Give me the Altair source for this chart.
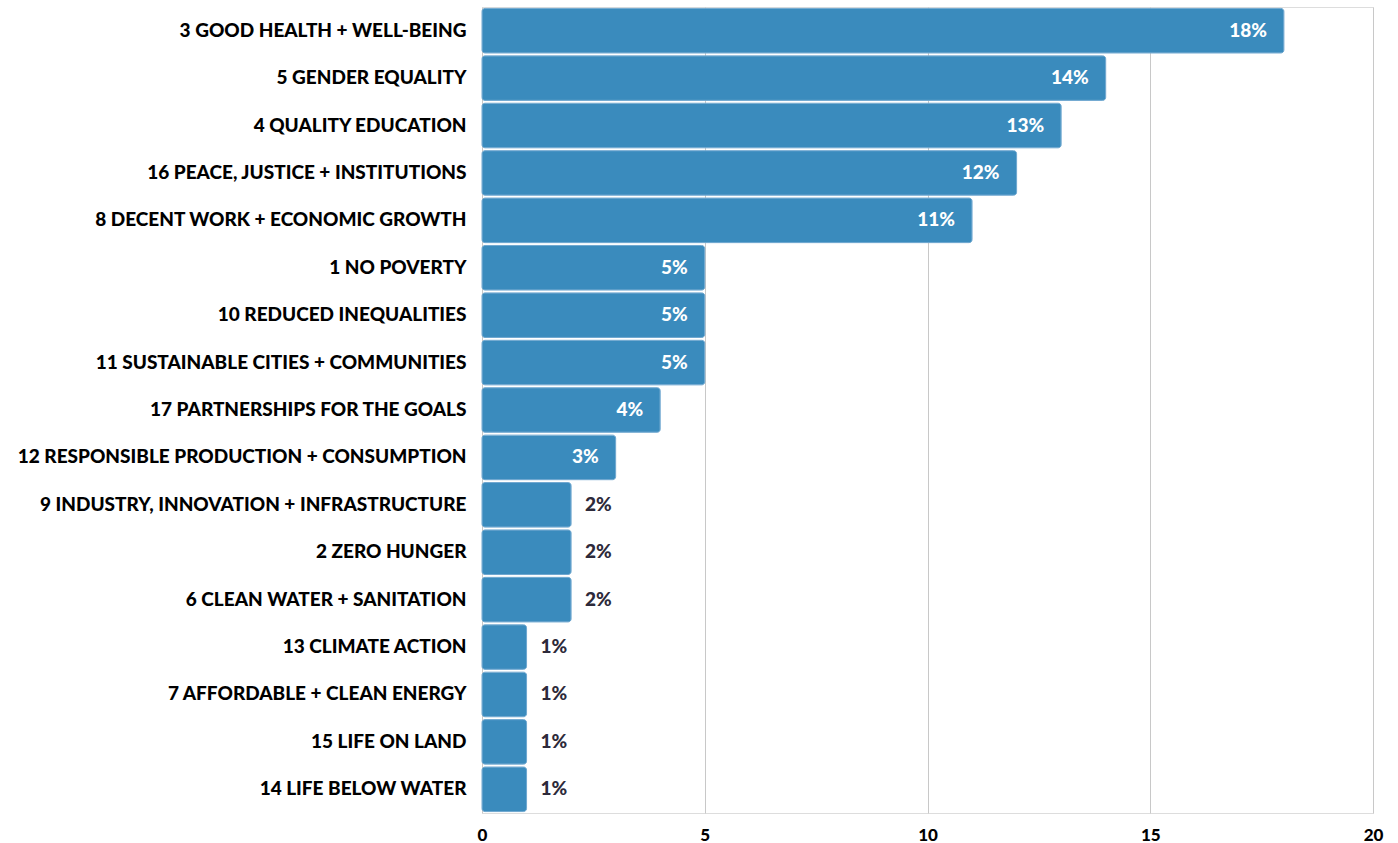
import altair as alt
import pandas as pd

categories = [
    "3 GOOD HEALTH + WELL-BEING",
    "5 GENDER EQUALITY",
    "4 QUALITY EDUCATION",
    "16 PEACE, JUSTICE + INSTITUTIONS",
    "8 DECENT WORK + ECONOMIC GROWTH",
    "1 NO POVERTY",
    "10 REDUCED INEQUALITIES",
    "11 SUSTAINABLE CITIES + COMMUNITIES",
    "17 PARTNERSHIPS FOR THE GOALS",
    "12 RESPONSIBLE PRODUCTION + CONSUMPTION",
    "9 INDUSTRY, INNOVATION + INFRASTRUCTURE",
    "2 ZERO HUNGER",
    "6 CLEAN WATER + SANITATION",
    "13 CLIMATE ACTION",
    "7 AFFORDABLE + CLEAN ENERGY",
    "15 LIFE ON LAND",
    "14 LIFE BELOW WATER",
]
values = [18, 14, 13, 12, 11, 5, 5, 5, 4, 3, 2, 2, 2, 1, 1, 1, 1]
x_ticks = [0, 5, 10, 15, 20]

df = pd.DataFrame({"goal": categories, "value": values})
df["label"] = df["value"].astype(str) + "%"

FONT = "Lato"
W = 900

y = alt.Y("goal:N", sort=categories, title=None,
          scale=alt.Scale(paddingInner=0.06, paddingOuter=0.03),
          axis=alt.Axis(ticks=False, domain=False, labelFontSize=19,
                        labelFontWeight=W, labelColor="#000000",
                        labelPadding=16, labelLimit=600, labelFont=FONT))
x = alt.X("value:Q", title=None,
          scale=alt.Scale(domain=[0, 20], nice=False),
          axis=alt.Axis(values=x_ticks, grid=True, gridColor="#c8c8c8",
                        domain=False, ticks=False, labelFontSize=17,
                        labelFontWeight=W, labelColor="#000000",
                        labelPadding=14, labelFont=FONT, labelFlush=False))

bars = alt.Chart(df).mark_bar(color="#3a8bbd", stroke="#6ea7cf", strokeWidth=1,
                              cornerRadius=3).encode(x=x, y=y)

inside = alt.Chart(df).transform_filter("datum.value >= 3").mark_text(
    align="right", dx=-17, fontSize=19, fontWeight=W, color="#ffffff", font=FONT
).encode(x="value:Q", y=alt.Y("goal:N", sort=categories), text="label:N")

outside = alt.Chart(df).transform_filter("datum.value < 3").mark_text(
    align="left", dx=14, fontSize=19, fontWeight=W, color="#2d2a3a", font=FONT
).encode(x="value:Q", y=alt.Y("goal:N", sort=categories), text="label:N")

chart = alt.layer(bars, inside, outside).properties(
    width=891, height=806,
    autosize=alt.AutoSizeParams(type="none"),
    padding={"left": 482, "top": 7, "right": 25, "bottom": 30},
).configure_view(stroke=None).configure(font=FONT)

chart.save("out.html", embed_options={"renderer": "svg", "actions": False})
